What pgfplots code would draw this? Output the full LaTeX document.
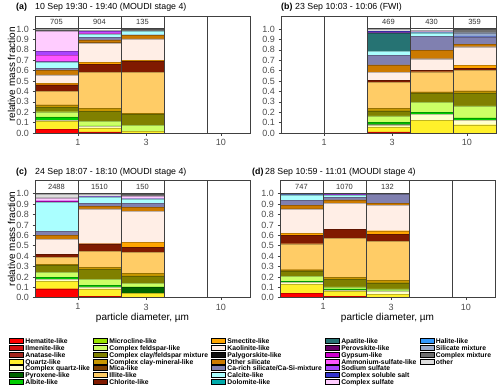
\documentclass[border=0pt]{standalone}
\usepackage{pgfplots}
\pgfplotsset{compat=1.18}
\usepackage{pgfplotstable}
\usepackage{fontspec}
\setmainfont{Liberation Sans}

% component colours, bottom to top of each stack
\definecolor{c1}{HTML}{FF0000}
\definecolor{c2}{HTML}{D41010}
\definecolor{c3}{HTML}{A3261E}
\definecolor{c4}{HTML}{FFF02A}
\definecolor{c5}{HTML}{FFFFCC}
\definecolor{c6}{HTML}{006400}
\definecolor{c7}{HTML}{00CC00}
\definecolor{c8}{HTML}{99E600}
\definecolor{c9}{HTML}{CCFF66}
\definecolor{c10}{HTML}{808000}
\definecolor{c11}{HTML}{C89600}
\definecolor{c12}{HTML}{7F4000}
\definecolor{c13}{HTML}{FFCC66}
\definecolor{c14}{HTML}{801A00}
\definecolor{c15}{HTML}{FFA500}
\definecolor{c16}{HTML}{FFEEE6}
\definecolor{c17}{HTML}{111111}
\definecolor{c18}{HTML}{CC7A00}
\definecolor{c19}{HTML}{8080B0}
\definecolor{c20}{HTML}{AAFFFF}
\definecolor{c21}{HTML}{00AAAA}
\definecolor{c22}{HTML}{267373}
\definecolor{c23}{HTML}{660066}
\definecolor{c24}{HTML}{CC00CC}
\definecolor{c25}{HTML}{FF55FF}
\definecolor{c26}{HTML}{AA44FF}
\definecolor{c27}{HTML}{3333CC}
\definecolor{c28}{HTML}{FFCCFF}
\definecolor{c29}{HTML}{3399FF}
\definecolor{c30}{HTML}{99AACC}
\definecolor{c31}{HTML}{707070}
\definecolor{c32}{HTML}{DDDDDD}

% rows: lower bin edge (last row = closing edge)
% columns: cumulative upper boundary of each class in the stack
\pgfplotstableread[row sep=\\]{
x c1 c2 c3 c4 c5 c6 c7 c8 c9 c10 c11 c12 c13 c14 c15 c16
  c17 c18 c19 c20 c21 c22 c23 c24 c25 c26 c27 c28 c29 c30 c31 c32 \\
0.5 .035 .035 .035 .11 .125 .125 .15 .155 .205 .25 .27 .27 .40 .465 .475 .56
    .56 .605 .625 .685 .685 .685 .685 .69 .75 .785 .785 .98 .98 .98 .985 1 \\
1   .005 .005 .01 .05 .062 .062 .068 .068 .115 .21 .24 .24 .585 .66 .68 .865
    .868 .895 .92 .95 .95 .95 .95 .95 .965 .975 .975 .975 .975 .975 .975 .99 \\
2   0 0 0 .015 .015 .015 .015 .015 .075 .18 .19 .19 .585 .69 .70 .905
    .905 .94 .945 .975 .975 .975 .975 .975 .975 .975 .975 .975 .975 .975 .995 .995 \\
4   0 0 0 0 0 0 0 0 0 0 0 0 0 0 0 0 0 0 0 0 0 0 0 0 0 0 0 0 0 0 0 0 \\
}\tabA

\pgfplotstableread[row sep=\\]{
x c1 c2 c3 c4 c5 c6 c7 c8 c9 c10 c11 c12 c13 c14 c15 c16
  c17 c18 c19 c20 c21 c22 c23 c24 c25 c26 c27 c28 c29 c30 c31 c32 \\
2   .005 .005 .01 .06 .08 .087 .105 .105 .165 .215 .24 .24 .49 .505 .505 .585
    .585 .655 .745 .785 .785 .965 .965 .965 .965 .973 .977 .977 .977 .977 .977 .995 \\
4   0 0 0 .12 .18 .18 .20 .20 .295 .38 .395 .395 .59 .605 .605 .715
    .715 .795 .93 .965 .965 .965 .965 .965 .965 .965 .97 .975 .975 .975 .975 .99 \\
8   0 0 0 .08 .12 .12 .145 .145 .26 .385 .405 .405 .60 .625 .65 .83
    .83 .85 .92 .925 .925 .925 .925 .925 .925 .925 .925 .925 .935 .965 .995 .995 \\
16  0 0 0 0 0 0 0 0 0 0 0 0 0 0 0 0 0 0 0 0 0 0 0 0 0 0 0 0 0 0 0 0 \\
}\tabB

\pgfplotstableread[row sep=\\]{
x c1 c2 c3 c4 c5 c6 c7 c8 c9 c10 c11 c12 c13 c14 c15 c16
  c17 c18 c19 c20 c21 c22 c23 c24 c25 c26 c27 c28 c29 c30 c31 c32 \\
0.5 .085 .085 .085 .16 .178 .178 .198 .198 .245 .31 .32 .32 .39 .415 .415 .56
    .56 .60 .64 .92 .92 .92 .92 .932 .932 .932 .932 .957 .957 .957 .962 .992 \\
1   .015 .015 .015 .085 .105 .105 .117 .117 .175 .275 .295 .295 .445 .52 .52 .855
    .855 .88 .905 .97 .97 .97 .97 .97 .97 .975 .975 .975 .975 .975 .975 .995 \\
2   0 0 0 .04 .045 .10 .105 .105 .14 .21 .235 .235 .435 .485 .535 .83
    .83 .87 .91 .95 .95 .95 .95 .95 .95 .95 .95 .975 .975 .975 .995 .995 \\
4   0 0 0 0 0 0 0 0 0 0 0 0 0 0 0 0 0 0 0 0 0 0 0 0 0 0 0 0 0 0 0 0 \\
}\tabC

\pgfplotstableread[row sep=\\]{
x c1 c2 c3 c4 c5 c6 c7 c8 c9 c10 c11 c12 c13 c14 c15 c16
  c17 c18 c19 c20 c21 c22 c23 c24 c25 c26 c27 c28 c29 c30 c31 c32 \\
0.5 .04 .04 .04 .13 .15 .15 .158 .158 .208 .258 .27 .27 .52 .60 .62 .85
    .854 .89 .935 .985 .99 .99 .99 .99 .99 .99 .99 .99 .99 .99 .99 .99 \\
1   .015 .015 .015 .06 .072 .072 .085 .085 .105 .175 .195 .195 .57 .655 .66 .91
    .91 .94 .965 .985 .985 .985 .985 .985 .985 .995 .995 .995 .995 .995 .995 .995 \\
2   0 0 0 .03 .065 .065 .065 .065 .085 .145 .165 .165 .54 .61 .645 .89
    .89 .905 1 1 1 1 1 1 1 1 1 1 1 1 1 1 \\
4   0 0 0 0 0 0 0 0 0 0 0 0 0 0 0 0 0 0 0 0 0 0 0 0 0 0 0 0 0 0 0 0 \\
}\tabD

% top class first, each bar from 0 up to its cumulative boundary
\newcommand\stackbars[1]{%
  \pgfplotsinvokeforeach{32,31,...,1}{%
    \addplot[ybar interval, fill=c##1, draw=c##1!75!black, line width=0.25pt]
      table[x=x, y=c##1] {#1};
  }%
}

% one panel: #1 = position of lower left corner, #2 = table
\newcommand\panel[2]{%
\begin{axis}[
    scale only axis, width=215pt, height=117pt,
    at={#1}, anchor=south west,
    xmode=log, xmin=0.5, xmax=16, ymin=0, ymax=1.125,
    axis on top,
    xtick={1,3,10}, xticklabels={1,3,10},
    ytick={0,0.1,0.2,0.3,0.4,0.5,0.6,0.7,0.8,0.9,1},
    /pgf/number format/assume math mode=true,
    yticklabel style={/pgf/number format/fixed,
      /pgf/number format/fixed zerofill, /pgf/number format/precision=1},
    ticklabel style={font=\fontsize{9}{10}\selectfont, text=black!70},
    tick align=outside, tick pos=left,
    major tick length=2.5pt, tick style={black!75, line width=0.5pt},
    axis line style={black!75, line width=0.6pt},
    extra x ticks={1,2,4,8}, extra x tick labels={},
    extra x tick style={grid=major, major tick length=0pt},
    major grid style={black!75, line width=0.6pt},
  ]
\stackbars{#2}
}

\tikzset{cnt/.style={font=\fontsize{7.5}{8}\selectfont, text=black!80}}

\newcommand\leg[2]{\addlegendimage{fill=#1}\addlegendentry{#2}}

\begin{document}
\begin{tikzpicture}
\useasboundingbox (0,0) rectangle (500pt,-386pt);

% (a)
\panel{(35pt,-133pt)}{\tabA}
\draw[black!75, line width=0.6pt] (axis cs:0.5,1.005) -- (axis cs:4,1.005);
\node[cnt] at (axis cs:0.7071,1.065) {705};
\node[cnt] at (axis cs:1.4142,1.065) {904};
\node[cnt] at (axis cs:2.8284,1.065) {135};
\end{axis}

% (b)
\panel{(281pt,-133pt)}{\tabB}
\draw[black!75, line width=0.6pt] (axis cs:2,1.005) -- (axis cs:16,1.005);
\node[cnt] at (axis cs:2.8284,1.065) {469};
\node[cnt] at (axis cs:5.6569,1.065) {430};
\node[cnt] at (axis cs:11.3137,1.065) {359};
\end{axis}

% (c)
\panel{(35pt,-297.7pt)}{\tabC}
\draw[black!75, line width=0.6pt] (axis cs:0.5,1.005) -- (axis cs:4,1.005);
\node[cnt] at (axis cs:0.7071,1.065) {2488};
\node[cnt] at (axis cs:1.4142,1.065) {1510};
\node[cnt] at (axis cs:2.8284,1.065) {150};
\end{axis}

% (d)
\panel{(280pt,-297.7pt)}{\tabD}
\draw[black!75, line width=0.6pt] (axis cs:0.5,1.005) -- (axis cs:4,1.005);
\node[cnt] at (axis cs:0.7071,1.065) {747};
\node[cnt] at (axis cs:1.4142,1.065) {1070};
\node[cnt] at (axis cs:2.8284,1.065) {132};
\end{axis}

% titles and axis titles
\begin{scope}[every node/.style={inner sep=0pt, font=\fontsize{8.8}{10}\selectfont}]
\node[anchor=base west, font=\bfseries\fontsize{8.8}{10}\selectfont] at (16pt,-9pt) {(a)};
\node[anchor=base west] at (35pt,-9pt) {10 Sep 19:30 - 19:40 (MOUDI stage 4)};
\node[anchor=base west, font=\bfseries\fontsize{8.8}{10}\selectfont] at (281pt,-9pt) {(b)};
\node[anchor=base west] at (295pt,-9pt) {23 Sep 10:03 - 10:06 (FWI)};
\node[anchor=base west, font=\bfseries\fontsize{8.8}{10}\selectfont] at (16pt,-174pt) {(c)};
\node[anchor=base west] at (35pt,-174pt) {24 Sep 18:07 - 18:10 (MOUDI stage 4)};
\node[anchor=base west, font=\bfseries\fontsize{8.8}{10}\selectfont] at (252pt,-174pt) {(d)};
\node[anchor=base west] at (265pt,-174pt) {28 Sep 10:59 - 11:01 (MOUDI stage 4)};
\end{scope}
\begin{scope}[every node/.style={inner sep=0pt, font=\fontsize{10}{12}\selectfont}]
\node[rotate=90, anchor=base] at (15pt,-74.5pt) {relative mass fraction};
\node[rotate=90, anchor=base] at (15pt,-239pt) {relative mass fraction};
\node[anchor=base] at (142.5pt,-320pt) {particle diameter, µm};
\node[anchor=base] at (387.5pt,-320pt) {particle diameter, µm};
\end{scope}

% legend, filled column by column (7 rows)
\begin{axis}[hide axis, scale only axis, width=10pt, height=10pt,
  xmin=0, xmax=1, ymin=0, ymax=1,
  at={(9pt,-338pt)}, anchor=north west,
  legend columns=7, transpose legend,
  legend cell align=left,
  legend style={at={(0,1)}, anchor=north west, draw=none, fill=none,
    inner sep=0pt, outer sep=0pt,
    font=\bfseries\fontsize{6.8}{7}\selectfont,
    column sep=2pt, row sep=0pt,
    nodes={inner sep=0pt, text height=4.9pt, text depth=1.4pt},
    /tikz/every even column/.append style={column sep=3pt}},
  legend image code/.code={\fill[#1] (0pt,-1.5pt) rectangle (14pt,3.5pt);},
]
\leg{c1}{Hematite-like}
\leg{c2}{Ilmenite-like}
\leg{c3}{Anatase-like}
\leg{c4}{Quartz-like}
\leg{c5}{Complex quartz-like}
\leg{c6}{Pyroxene-like}
\leg{c7}{Albite-like}
\leg{c8}{Microcline-like}
\leg{c9}{Complex feldspar-like}
\leg{c10}{Complex clay/feldspar mixture}
\leg{c11}{Complex clay-mineral-like}
\leg{c12}{Mica-like}
\leg{c13}{Illite-like}
\leg{c14}{Chlorite-like}
\leg{c15}{Smectite-like}
\leg{c16}{Kaolinite-like}
\leg{c17}{Palygorskite-like}
\leg{c18}{Other silicate}
\leg{c19}{Ca-rich silicate/Ca-Si-mixture}
\leg{c20}{Calcite-like}
\leg{c21}{Dolomite-like}
\leg{c22}{Apatite-like}
\leg{c23}{Perovskite-like}
\leg{c24}{Gypsum-like}
\leg{c25}{Ammonium-sulfate-like}
\leg{c26}{Sodium sulfate}
\leg{c27}{Complex soluble salt}
\leg{c28}{Complex sulfate}
\leg{c29}{Halite-like}
\leg{c30}{Silicate mixture}
\leg{c31}{Complex mixture}
\leg{c32}{other}
\addlegendimage{empty legend}\addlegendentry{}
\addlegendimage{empty legend}\addlegendentry{}
\addlegendimage{empty legend}\addlegendentry{}
\end{axis}
\end{tikzpicture}
\end{document}
